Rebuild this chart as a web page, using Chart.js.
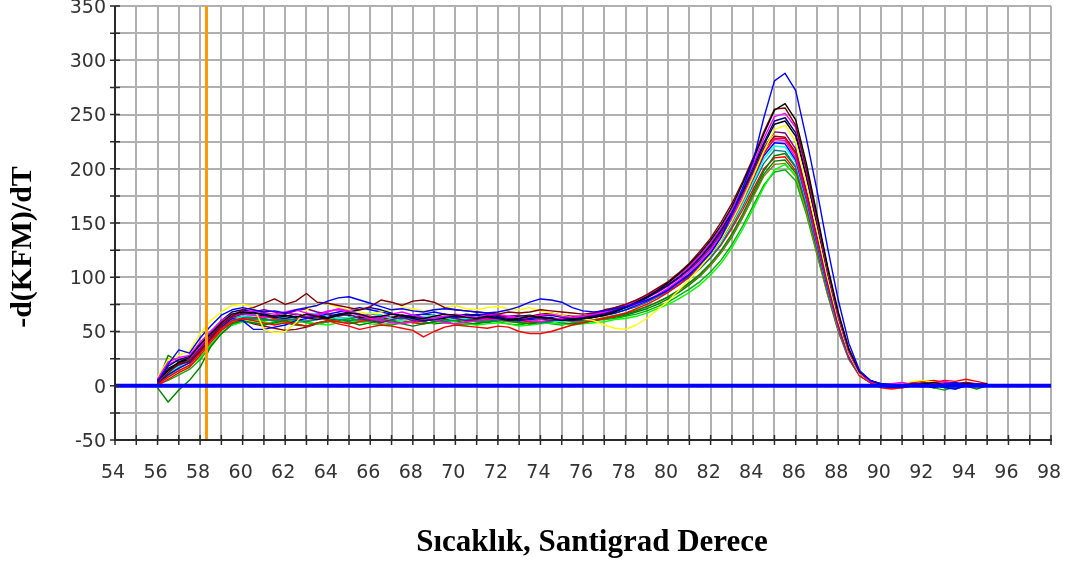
<!DOCTYPE html>
<html>
<head>
<meta charset="utf-8">
<script src="https://cdn.jsdelivr.net/npm/chart.js@4.4.1/dist/chart.umd.min.js"></script>
<style>
  html, body { margin: 0; padding: 0; background: #ffffff; }
  #wrap { width: 1072px; height: 567px; }
</style>
</head>
<body>
<div id="wrap"><canvas id="melt" width="1072" height="567"></canvas></div>
<script>
// Melt-curve derivative, -d(KFM)/dT, sampled every 0.5 °C
const temps = [
  56.0, 56.5, 57.0, 57.5, 58.0, 58.5, 59.0, 59.5, 60.0, 60.5,
  61.0, 61.5, 62.0, 62.5, 63.0, 63.5, 64.0, 64.5, 65.0, 65.5,
  66.0, 66.5, 67.0, 67.5, 68.0, 68.5, 69.0, 69.5, 70.0, 70.5,
  71.0, 71.5, 72.0, 72.5, 73.0, 73.5, 74.0, 74.5, 75.0, 75.5,
  76.0, 76.5, 77.0, 77.5, 78.0, 78.5, 79.0, 79.5, 80.0, 80.5,
  81.0, 81.5, 82.0, 82.5, 83.0, 83.5, 84.0, 84.5, 85.0, 85.5,
  86.0, 86.5, 87.0, 87.5, 88.0, 88.5, 89.0, 89.5, 90.0, 90.5,
  91.0, 91.5, 92.0, 92.5, 93.0, 93.5, 94.0, 94.5, 95.0
];

const wellBlue1 = [
  3, 20, 33, 30, 44, 55, 65, 70, 72, 70,
  68, 69, 67, 70, 72, 74, 78, 81, 82, 79,
  76, 73, 70, 71, 69, 68, 70, 71, 70, 69,
  68, 67, 68, 70, 73, 77, 80, 79, 77, 72,
  69, 68, 69, 71, 73, 76, 79, 83, 88, 95,
  102, 112, 122, 137, 158, 182, 207, 247, 281, 288,
  272, 228, 180, 127, 79, 39, 14, 5, 2, 1,
  0, 2, 1, -1, 2, 3, 1, 2, 1
];
const wellBlack1 = [
  5, 14, 22, 26, 38, 48, 58, 66, 68, 67,
  66, 64, 65, 63, 66, 64, 62, 65, 67, 66,
  63, 64, 66, 65, 63, 62, 64, 66, 65, 63,
  62, 64, 63, 61, 62, 64, 63, 62, 60, 61,
  62, 63, 65, 68, 72, 77, 82, 88, 95, 103,
  112, 122, 134, 148, 165, 186, 208, 232, 254, 260,
  245, 205, 158, 110, 68, 34, 13, 5, 2, 1,
  1, 0, 2, 3, 1, 0, 2, 1, 2
];
const wellMaroon1 = [
  2, 12, 20, 22, 32, 44, 56, 64, 70, 72,
  76, 80, 75, 78, 85, 77, 76, 74, 72, 70,
  73, 79, 77, 74, 78, 79, 77, 72, 70, 69,
  68, 67, 66, 68, 67, 68, 70, 69, 68, 67,
  66, 67, 70, 72, 75, 79, 84, 90, 96, 104,
  113, 124, 136, 151, 168, 188, 210, 234, 255, 256,
  240, 200, 155, 108, 66, 33, 13, 5, 1, 0,
  -1, 1, 2, 0, 1, 2, 3, 1, 0
];
const wellMagenta1 = [
  6, 22, 26, 28, 40, 50, 60, 66, 68, 69,
  67, 66, 68, 70, 67, 65, 68, 71, 69, 66,
  64, 62, 66, 68, 65, 63, 62, 64, 66, 64,
  63, 65, 66, 64, 62, 63, 65, 66, 64, 63,
  64, 66, 68, 71, 74, 78, 83, 89, 95, 102,
  110, 120, 132, 146, 163, 182, 204, 228, 248, 251,
  238, 198, 153, 106, 64, 31, 12, 4, 1, 2,
  3, 1, 0, 2, 4, 2, 1, 0, 1
];
const wellNavy1 = [
  4, 18, 24, 27, 38, 50, 60, 68, 70, 68,
  65, 63, 62, 64, 63, 61, 63, 66, 68, 70,
  72, 70, 67, 64, 62, 60, 61, 63, 64, 66,
  65, 63, 62, 60, 61, 62, 64, 65, 63, 62,
  63, 64, 66, 69, 72, 76, 81, 87, 93, 100,
  108, 118, 130, 144, 160, 180, 202, 224, 244, 247,
  233, 194, 150, 104, 63, 31, 12, 4, 1, 0,
  1, 2, 0, -2, 1, 0, 2, 1, 0
];
const wellYellow1 = [
  8, 24, 28, 32, 48, 60, 68, 74, 75, 73,
  52, 49, 50, 58, 70, 75, 76, 72, 70, 68,
  66, 68, 70, 72, 71, 69, 70, 72, 74, 71,
  70, 72, 73, 71, 70, 72, 69, 67, 65, 63,
  62, 60, 56, 53, 52, 56, 62, 70, 78, 88,
  98, 109, 121, 135, 152, 171, 193, 216, 236, 240,
  225, 186, 143, 99, 60, 29, 11, 4, 1, 0,
  2, 4, 5, 3, 2, 1, 0, 2, 1
];
const wellPurple1 = [
  3, 15, 19, 23, 34, 46, 56, 63, 66, 68,
  70, 68, 66, 69, 71, 68, 66, 64, 66, 62,
  60, 58, 61, 63, 60, 59, 62, 64, 62, 60,
  61, 63, 62, 64, 65, 63, 62, 60, 61, 63,
  64, 65, 67, 70, 73, 77, 81, 86, 92, 99,
  107, 116, 127, 141, 157, 176, 197, 219, 234, 233,
  218, 180, 138, 95, 57, 28, 11, 4, 1, 0,
  0, 1, 3, 2, 1, 0, 1, 2, 1
];
const wellRed1 = [
  1, 8, 14, 19, 30, 42, 53, 60, 62, 60,
  58, 56, 58, 57, 55, 58, 60, 57, 55, 52,
  54, 56, 55, 53, 51, 45, 50, 54, 56, 55,
  54, 53, 55, 54, 50, 48, 48, 50, 53, 56,
  58, 60, 62, 64, 67, 71, 75, 80, 86, 93,
  101, 110, 121, 135, 151, 170, 191, 214, 228, 228,
  213, 176, 135, 93, 55, 27, 10, 3, -2, -3,
  -2, 0, 1, 3, 5, 4, 6, 4, 2
];
const wellMagenta2 = [
  5, 20, 24, 25, 36, 47, 57, 64, 66, 65,
  63, 65, 67, 66, 64, 66, 69, 70, 68, 65,
  62, 60, 58, 57, 59, 62, 61, 58, 57, 59,
  60, 62, 61, 63, 62, 60, 59, 61, 62, 63,
  64, 66, 67, 69, 72, 75, 79, 84, 90, 97,
  105, 114, 125, 139, 155, 173, 194, 215, 227, 226,
  210, 174, 133, 92, 55, 27, 10, 3, 1, 0,
  1, 0, -1, 1, 2, 1, 0, 1, 0
];
const wellBlue2 = [
  2, 10, 16, 21, 32, 43, 54, 62, 60, 52,
  52, 54, 56, 60, 62, 64, 66, 68, 70, 72,
  70, 68, 66, 64, 65, 66, 68, 66, 63, 64,
  66, 65, 64, 62, 60, 61, 62, 63, 61, 60,
  61, 63, 65, 67, 70, 74, 78, 83, 89, 96,
  103, 112, 123, 137, 153, 171, 191, 212, 224, 223,
  208, 172, 131, 90, 54, 26, 10, 3, 0, -2,
  -1, 0, 2, 1, -2, -3, 0, 1, 2
];
const wellCyan1 = [
  3, 12, 18, 22, 33, 44, 55, 61, 64, 65,
  66, 64, 62, 63, 65, 67, 64, 62, 63, 65,
  67, 65, 62, 60, 62, 64, 65, 63, 61, 62,
  64, 63, 62, 61, 63, 64, 62, 60, 59, 61,
  62, 64, 66, 68, 71, 74, 78, 83, 89, 95,
  102, 111, 121, 134, 150, 168, 188, 209, 221, 220,
  206, 170, 130, 89, 53, 26, 10, 4, 2, 1,
  0, 1, 2, 1, 0, 1, 2, 0, 1
];
const wellTeal1 = [
  4, 14, 19, 23, 33, 44, 54, 60, 63, 62,
  61, 60, 62, 61, 59, 61, 63, 62, 60, 61,
  63, 61, 60, 62, 63, 61, 60, 59, 61, 62,
  60, 59, 60, 62, 61, 60, 58, 59, 60, 62,
  63, 64, 65, 67, 70, 73, 77, 82, 87, 93,
  100, 108, 118, 131, 147, 165, 185, 205, 217, 216,
  202, 167, 127, 87, 52, 25, 10, 3, 1, 0,
  0, 1, 0, 2, 1, 0, 1, 2, 1
];
const wellGreen1 = [
  -2, -15, -4, 5, 17, 36, 48, 57, 60, 58,
  56, 58, 60, 57, 55, 58, 60, 62, 59, 56,
  58, 61, 60, 57, 55, 57, 59, 61, 60, 58,
  57, 59, 61, 60, 58, 57, 59, 60, 58, 57,
  58, 60, 62, 64, 66, 69, 73, 77, 82, 88,
  95, 103, 113, 125, 140, 158, 178, 198, 212, 214,
  201, 167, 128, 89, 53, 26, 10, 3, 0, -1,
  -2, 0, 1, 2, -1, -3, 0, 1, 2
];
const wellRed2 = [
  0, 6, 12, 17, 28, 40, 51, 58, 61, 62,
  64, 62, 60, 62, 64, 63, 61, 59, 57, 59,
  61, 63, 62, 60, 58, 57, 59, 61, 63, 62,
  60, 61, 63, 62, 60, 59, 58, 60, 61, 60,
  61, 63, 65, 67, 70, 73, 77, 82, 87, 93,
  100, 108, 118, 130, 145, 162, 181, 200, 210, 211,
  198, 164, 125, 86, 51, 25, 9, 3, 0, -1,
  1, 3, 4, 5, 3, 2, 1, 0, 1
];
const wellLime1 = [
  2, 9, 14, 18, 26, 38, 49, 56, 59, 60,
  59, 57, 58, 60, 59, 57, 56, 58, 60, 59,
  57, 56, 58, 60, 59, 57, 58, 60, 59, 57,
  56, 57, 58, 57, 55, 56, 57, 58, 57, 56,
  57, 58, 59, 61, 62, 64, 67, 71, 75, 80,
  86, 93, 102, 113, 127, 144, 163, 183, 199, 204,
  194, 162, 124, 86, 52, 26, 11, 4, 1, 0,
  1, 2, 0, -1, 1, 2, 0, 1, 2
];
const wellOlive1 = [
  3, 11, 17, 21, 31, 42, 52, 59, 62, 61,
  60, 61, 59, 58, 60, 62, 61, 59, 58, 60,
  62, 60, 59, 58, 60, 61, 60, 58, 57, 59,
  60, 61, 60, 59, 58, 59, 61, 62, 60, 59,
  60, 61, 63, 65, 67, 70, 73, 77, 82, 88,
  94, 102, 111, 123, 138, 155, 174, 193, 204, 205,
  193, 160, 122, 84, 50, 24, 9, 3, 1, 0,
  0, 1, 2, 1, 0, 1, 1, 2, 0
];
const wellGreen2 = [
  1, 5, 10, 15, 24, 37, 48, 56, 59, 58,
  57, 59, 61, 60, 58, 57, 59, 61, 62, 60,
  59, 57, 56, 58, 60, 62, 61, 59, 57, 56,
  58, 60, 59, 57, 56, 58, 59, 57, 56, 58,
  59, 60, 61, 62, 64, 66, 69, 73, 77, 83,
  89, 96, 105, 116, 130, 147, 166, 185, 197, 199,
  189, 158, 121, 84, 51, 25, 10, 3, 0, -2,
  -1, 0, 1, -2, -4, -1, 0, 1, 0
];
const wellBlack2 = [
  4, 16, 21, 25, 36, 47, 57, 64, 67, 66,
  64, 63, 64, 66, 65, 63, 64, 66, 65, 63,
  62, 61, 63, 65, 64, 62, 61, 62, 64, 65,
  63, 62, 61, 62, 64, 65, 63, 61, 60, 62,
  63, 65, 67, 70, 73, 77, 82, 87, 93, 100,
  108, 118, 129, 143, 159, 178, 199, 222, 241, 244,
  230, 192, 148, 102, 62, 30, 11, 4, 1, 0,
  0, 1, 0, 1, 2, 1, 0, 1, 1
];
const wellGreen3 = [
  3, 28, 22, 24, 35, 46, 56, 62, 64, 63,
  62, 60, 58, 56, 55, 57, 59, 60, 62, 63,
  61, 59, 60, 62, 61, 59, 57, 58, 60, 61,
  59, 58, 60, 61, 59, 57, 58, 59, 61, 60,
  59, 60, 62, 63, 65, 68, 71, 75, 80, 86,
  93, 101, 111, 123, 137, 155, 175, 195, 207, 208,
  196, 163, 124, 86, 52, 25, 10, 3, 1, 0,
  1, 0, -1, 0, 1, 2, 0, -3, 0
];
const wellMaroon2 = [
  2, 14, 20, 24, 35, 46, 56, 62, 60, 57,
  55, 53, 51, 52, 54, 57, 60, 62, 63, 64,
  66, 65, 63, 62, 64, 66, 65, 63, 62, 64,
  65, 66, 65, 63, 62, 64, 66, 67, 65, 64,
  64, 66, 69, 72, 75, 79, 83, 88, 95, 102,
  110, 120, 131, 144, 160, 178, 198, 218, 230, 229,
  215, 178, 136, 94, 56, 28, 11, 4, 1, 0,
  2, 3, 1, 0, 2, 1, 3, 2, 1
];

// Well traces and their colours
const wellSeries = [
  ['#0000ff', wellBlue1], ['#000000', wellBlack1], ['#800000', wellMaroon1],
  ['#ff00ff', wellMagenta1], ['#000080', wellNavy1], ['#ffff00', wellYellow1],
  ['#800080', wellPurple1], ['#ff0000', wellRed1], ['#ff00ff', wellMagenta2],
  ['#0000ff', wellBlue2], ['#00ffff', wellCyan1], ['#008080', wellTeal1],
  ['#008000', wellGreen1], ['#ff0000', wellRed2], ['#00ff00', wellLime1],
  ['#808000', wellOlive1], ['#00b000', wellGreen2], ['#000000', wellBlack2],
  ['#008000', wellGreen3], ['#8b0000', wellMaroon2]
];

// Threshold marker and zero baseline
const thresholdTemp = 58.3;
const baselineValue = 0;

// Axis ranges and labels
const xMin = 54, xMax = 98, xStep = 1, xLabelEvery = 2;
const yMin = -50, yMax = 350, yStep = 25, yLabelEvery = 50;
const yTitle = '-d(KFM)/dT';
const xTitle = 'Sıcaklık, Santigrad Derece';

const datasets = [];
datasets.push({
  label: 'baseline',
  data: [{ x: xMin, y: baselineValue }, { x: xMax, y: baselineValue }],
  borderColor: '#0000ff', borderWidth: 4, pointRadius: 0, order: 0
});
datasets.push({
  label: 'threshold',
  data: [{ x: thresholdTemp, y: yMin }, { x: thresholdTemp, y: yMax }],
  borderColor: '#ff9900', borderWidth: 3, pointRadius: 0, order: 0
});
wellSeries.forEach(([color, values], i) => {
  datasets.push({
    label: 'well ' + (i + 1),
    data: temps.map((t, k) => ({ x: t, y: values[k] })),
    borderColor: color, borderWidth: 1.4, pointRadius: 0, tension: 0, order: 1
  });
});

// Tick marks that cross the axis lines, plus the two axis titles
const axisDecor = {
  id: 'axisDecor',
  afterDatasetsDraw(chart) {
    const { ctx, chartArea: a, scales: { x, y } } = chart;
    ctx.save();
    ctx.strokeStyle = '#2a2a2a';
    ctx.lineWidth = 2;
    ctx.beginPath();
    ctx.moveTo(a.left, a.top); ctx.lineTo(a.left, a.bottom + 1);
    ctx.moveTo(a.left - 1, a.bottom); ctx.lineTo(a.right + 1, a.bottom);
    ctx.stroke();
    ctx.lineWidth = 1.5;
    ctx.beginPath();
    x.ticks.forEach(t => {
      const px = x.getPixelForValue(t.value);
      ctx.moveTo(px, a.bottom - 5); ctx.lineTo(px, a.bottom + 5);
    });
    y.ticks.forEach(t => {
      const py = y.getPixelForValue(t.value);
      ctx.moveTo(a.left - 5, py); ctx.lineTo(a.left + 5, py);
    });
    ctx.stroke();
    ctx.restore();
  },
  afterDraw(chart) {
    const { ctx } = chart;
    ctx.save();
    ctx.fillStyle = '#000000';
    ctx.font = 'bold 31px "Liberation Serif", "Times New Roman", serif';
    ctx.textAlign = 'center';
    ctx.textBaseline = 'middle';
    ctx.fillText(xTitle, 592, 543);
    ctx.font = 'bold 30px "Liberation Serif", "Times New Roman", serif';
    ctx.translate(23, 247);
    ctx.rotate(-Math.PI / 2);
    ctx.fillText(yTitle, 0, 0);
    ctx.restore();
  }
};

new Chart(document.getElementById('melt'), {
  type: 'line',
  data: { datasets },
  options: {
    responsive: false,
    animation: false,
    devicePixelRatio: 1,
    layout: { padding: { left: 0, right: 21, top: 6, bottom: 0 } },
    plugins: { legend: { display: false }, tooltip: { enabled: false } },
    elements: { line: { borderJoinStyle: 'round' } },
    scales: {
      x: {
        type: 'linear', min: xMin, max: xMax,
        afterFit(s) { s.height = 127; s.paddingLeft = 0; s.paddingRight = 0; },
        grid: { color: '#b0b0b0', lineWidth: 2, drawTicks: false },
        border: { display: false },
        ticks: {
          stepSize: xStep, autoSkip: false, maxRotation: 0, padding: 22, labelOffset: -2,
          color: '#333333', font: { family: '"DejaVu Sans", Verdana, sans-serif', size: 19 },
          callback: v => (v % xLabelEvery === 0 ? String(v) : '')
        }
      },
      y: {
        type: 'linear', min: yMin, max: yMax,
        afterFit(s) { s.width = 115; s.paddingTop = 0; s.paddingBottom = 0; },
        grid: { color: '#b0b0b0', lineWidth: 2, drawTicks: false },
        border: { display: false },
        ticks: {
          stepSize: yStep, autoSkip: false, padding: 9, labelOffset: 2,
          color: '#333333', font: { family: '"DejaVu Sans", Verdana, sans-serif', size: 19 },
          callback: v => (v % yLabelEvery === 0 ? String(v) : '')
        }
      }
    }
  },
  plugins: [axisDecor]
});
</script>
</body>
</html>
